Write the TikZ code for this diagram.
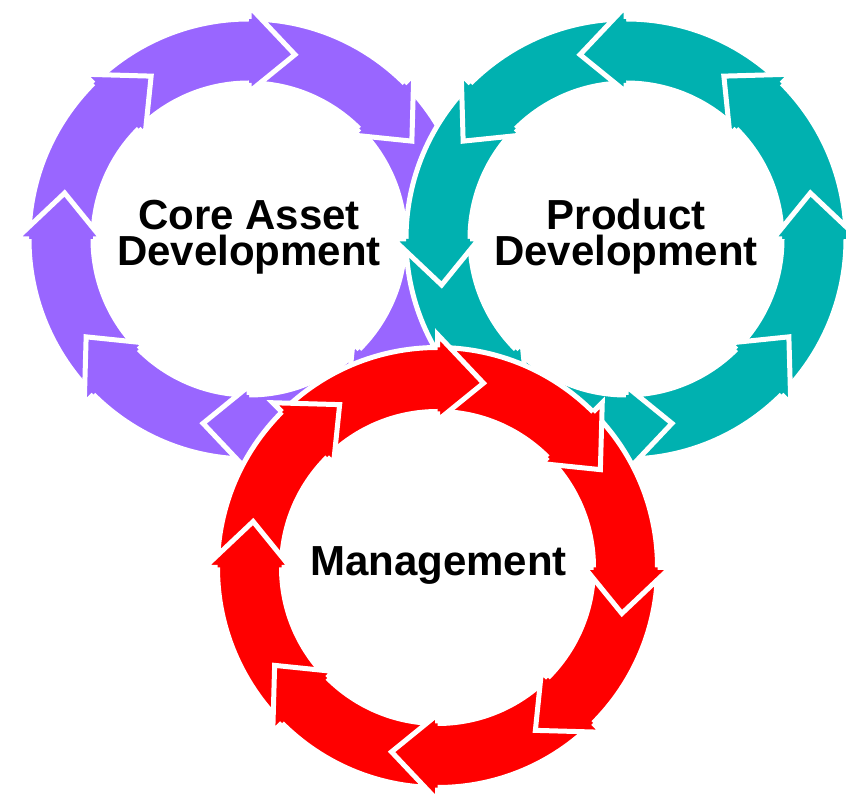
\documentclass[tikz,border=0pt]{standalone}
\usepackage{fontspec}
\setmainfont{Liberation Sans}
\usetikzlibrary{calc}
\definecolor{coreviolet}{RGB}{153,102,255}
\definecolor{prodteal}{RGB}{0,177,176}
\definecolor{mgmtred}{RGB}{255,0,0}
\tikzstyle{ring}=[draw=white,line width=5pt,even odd rule]
\tikzstyle{head}=[draw=white,line width=5pt,line join=miter]
\tikzstyle{ringtext}=[font=\fontsize{42}{36}\selectfont\bfseries,align=center,inner sep=0pt]

\begin{document}
\begin{tikzpicture}[x=1pt,y=1pt]
  \useasboundingbox (0,0) rectangle (846,798);

  \coordinate (core) at (249,559);
  \coordinate (prod) at (626,559);
  \coordinate (mgmt) at (437.5,230.5);

  % three rings of eight arrows, -1 = clockwise
  \foreach \ctr/\col/\dir in {core/coreviolet/-1, prod/prodteal/1, mgmt/mgmtred/-1} {
    \begin{scope}[shift={(\ctr)}]
      \path[ring,fill=\col] (0,0) circle (220) (0,0) circle (156);
      \foreach \k in {0,...,7} {
        \pgfmathsetmacro{\b}{90+\dir*45*\k}
        \pgfmathsetmacro{\t}{\b+\dir*14}
        \path[head,fill=\col] (\b:220) -- (\b:233) -- (\t:190) -- (\b:147) -- (\b:156);
      }
    \end{scope}
  }

  \node[ringtext] (coretext) at (249,561) {Core Asset\\Development};
  \node[ringtext] (prodtext) at (626,561) {Product\\Development};
  \node[ringtext,anchor=base] (mgmttext) at (438.5,222) {Management};

\end{tikzpicture}
\end{document}
